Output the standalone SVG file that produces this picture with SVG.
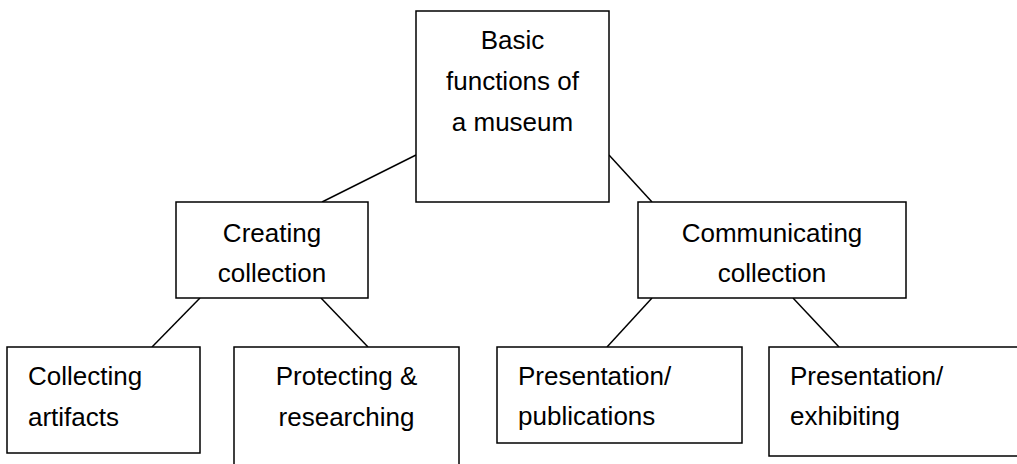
<svg xmlns="http://www.w3.org/2000/svg" width="1017" height="464" viewBox="0 0 1017 464">
<style>
rect{fill:#fff;stroke:#000;stroke-width:1.5}
line{stroke:#000;stroke-width:1.5}
text{font-family:"Liberation Sans",Arial,sans-serif;font-size:26px;fill:#000}
.c{text-anchor:middle}
</style>
<rect x="0" y="0" width="1017" height="464" style="stroke:none"/>
<g id="connectors">
<line x1="322" y1="202" x2="416" y2="155"/>
<line x1="609" y1="155" x2="652" y2="202"/>
<line x1="200" y1="298" x2="152" y2="347"/>
<line x1="321" y1="298" x2="368" y2="347"/>
<line x1="652" y1="298" x2="607" y2="347"/>
<line x1="793" y1="298" x2="839" y2="347"/>
</g>
<g id="root">
<rect x="416" y="11" width="193" height="191"/>
<text class="c" x="512.5" y="49">Basic</text>
<text class="c" x="512.5" y="90">functions of</text>
<text class="c" x="512.5" y="131">a museum</text>
</g>
<g id="creating">
<rect x="176" y="202" width="192" height="96"/>
<text class="c" x="272" y="242">Creating</text>
<text class="c" x="272" y="282">collection</text>
</g>
<g id="communicating">
<rect x="638" y="202" width="268" height="96"/>
<text class="c" x="772" y="242">Communicating</text>
<text class="c" x="772" y="282">collection</text>
</g>
<g id="collecting">
<rect x="7" y="347" width="193" height="106"/>
<text x="28" y="385">Collecting</text>
<text x="28" y="426">artifacts</text>
</g>
<g id="protecting">
<rect x="234" y="347" width="225" height="130"/>
<text class="c" x="346.5" y="385">Protecting &amp;</text>
<text class="c" x="346.5" y="426">researching</text>
</g>
<g id="publications">
<rect x="497" y="347" width="245" height="96"/>
<text x="518" y="385">Presentation/</text>
<text x="518" y="425">publications</text>
</g>
<g id="exhibiting">
<rect x="769" y="347" width="260" height="109"/>
<text x="790" y="385">Presentation/</text>
<text x="790" y="425">exhibiting</text>
</g>
</svg>
